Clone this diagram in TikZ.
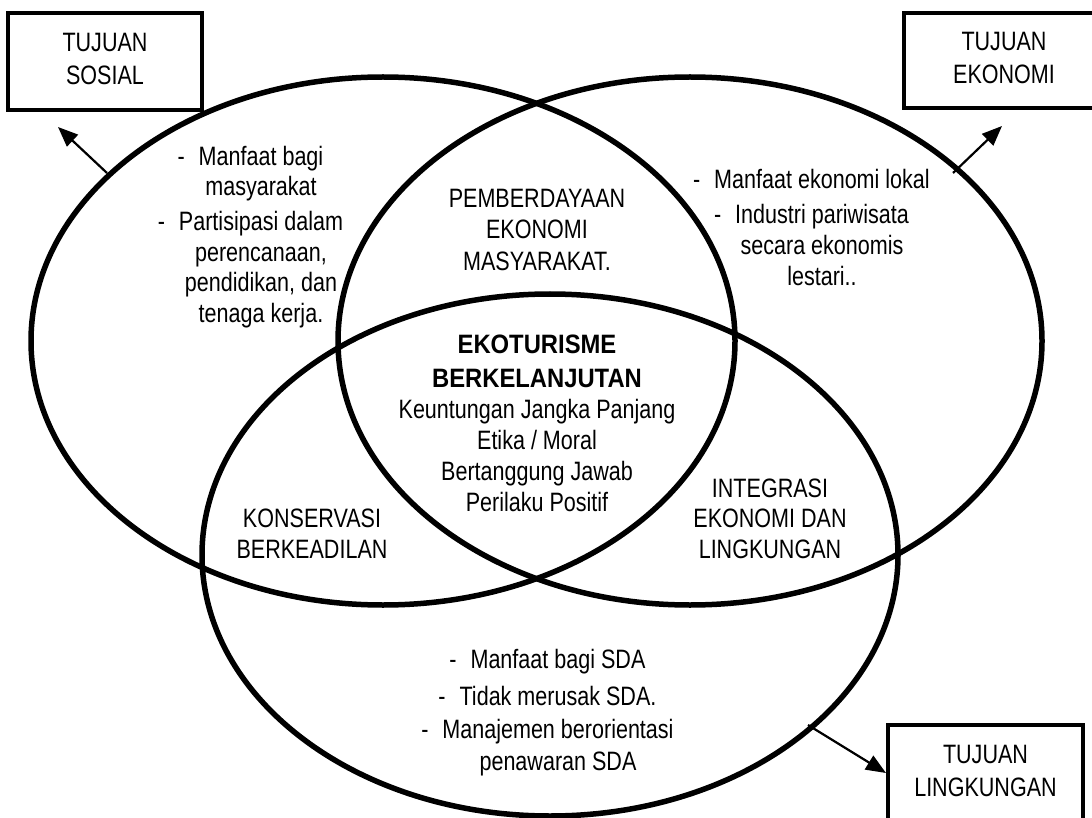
\documentclass[tikz,border=0pt]{standalone}
\usepackage{fontspec}
\setmainfont{Liberation Sans}[FakeStretch=0.81]
\newfontfamily\titlefont{Liberation Sans}[FakeStretch=0.895]
\usetikzlibrary{arrows.meta}
% dash hanging to the left of a centred list line
\newcommand\itemdash{\llap{-\hspace{7pt}}}
\begin{document}
\begin{tikzpicture}[x=0.5pt, y=-0.5pt,
  ring/.style={line width=2.75pt},
  goalbox/.style={draw, line width=2pt, align=center, inner sep=0pt,
    font=\fontsize{13.3}{16.5}\selectfont},
  blurb/.style={align=center, inner sep=0pt, anchor=north},
  link/.style={line width=1.1pt, -{Triangle[length=10pt,width=8pt]}}
]
\fill[white] (0,0) rectangle (1092,818);
\useasboundingbox (0,0) rectangle (1092,818);

% the three overlapping ellipses
\draw[ring] (383,341) ellipse [x radius=176pt, y radius=132pt];
\draw[ring] (690,341) ellipse [x radius=176pt, y radius=132pt];
\draw[ring] (550,555) ellipse [x radius=174pt, y radius=130.5pt];

% goal boxes
\node[goalbox, minimum width=97pt, minimum height=48.5pt] (social) at (105,61.5)
  {\strut TUJUAN\\\strut SOSIAL};
\node[goalbox, minimum width=100pt, minimum height=47.5pt] (economic) at (1004,60.5)
  {\strut TUJUAN\\\strut EKONOMI};
\node[goalbox, minimum width=97.5pt, minimum height=48pt] (environment) at (985.5,773)
  {\strut TUJUAN\\\strut LINGKUNGAN};

% social aspects
\node[blurb, font=\fontsize{13.3}{15.25}\selectfont] (socialpts) at (261,143.6)
  {\strut\itemdash Manfaat bagi\\masyarakat\\[2.25pt]\itemdash Partisipasi dalam\\perencanaan,\\pendidikan, dan\\tenaga kerja.};

% economic aspects
\node[blurb, font=\fontsize{13.3}{15.5}\selectfont] (economicpts) at (822,166.3)
  {\strut\itemdash Manfaat ekonomi lokal\\[2pt]\itemdash Industri pariwisata\\secara ekonomis\\lestari..};

% social/economic overlap
\node[blurb, font=\fontsize{13.3}{15.75}\selectfont] (empower) at (537,185)
  {\strut PEMBERDAYAAN\\EKONOMI\\MASYARAKAT.};

% core of the diagram
\node[blurb, font=\fontsize{13.3}{15.5}\selectfont] (core) at (537,331.3)
  {\strut{\titlefont\bfseries EKOTURISME}\\[1.5pt]{\titlefont\bfseries BERKELANJUTAN}\\Keuntungan Jangka Panjang\\Etika / Moral\\Bertanggung Jawab\\Perilaku Positif};

% social/environment overlap
\node[blurb, font=\fontsize{13.3}{15.5}\selectfont] (conserve) at (312,505.3)
  {\strut KONSERVASI\\BERKEADILAN};

% economic/environment overlap
\node[blurb, font=\fontsize{13.3}{15.25}\selectfont] (integrate) at (770,475.6)
  {\strut INTEGRASI\\EKONOMI DAN\\LINGKUNGAN};

% environmental aspects
\node[blurb, font=\fontsize{13.3}{16}\selectfont] (environmentpts) at (558,645.6)
  {\strut\itemdash Manfaat bagi SDA\\[2.5pt]\itemdash Tidak merusak SDA.\\[0.5pt]\itemdash Manajemen berorientasi\\penawaran SDA};

% arrows from the ellipses to their goals
\coordinate (socialfoot) at (107,173);
\coordinate (socialhead) at (58,127);
\coordinate (economicfoot) at (953,173);
\coordinate (economichead) at (1002,126);
\coordinate (environmentfoot) at (808,725);
\draw[link] (socialfoot) -- (socialhead);
\draw[link] (economicfoot) -- (economichead);
\draw[link] (environmentfoot) -- (environment.west);
\end{tikzpicture}
\end{document}
